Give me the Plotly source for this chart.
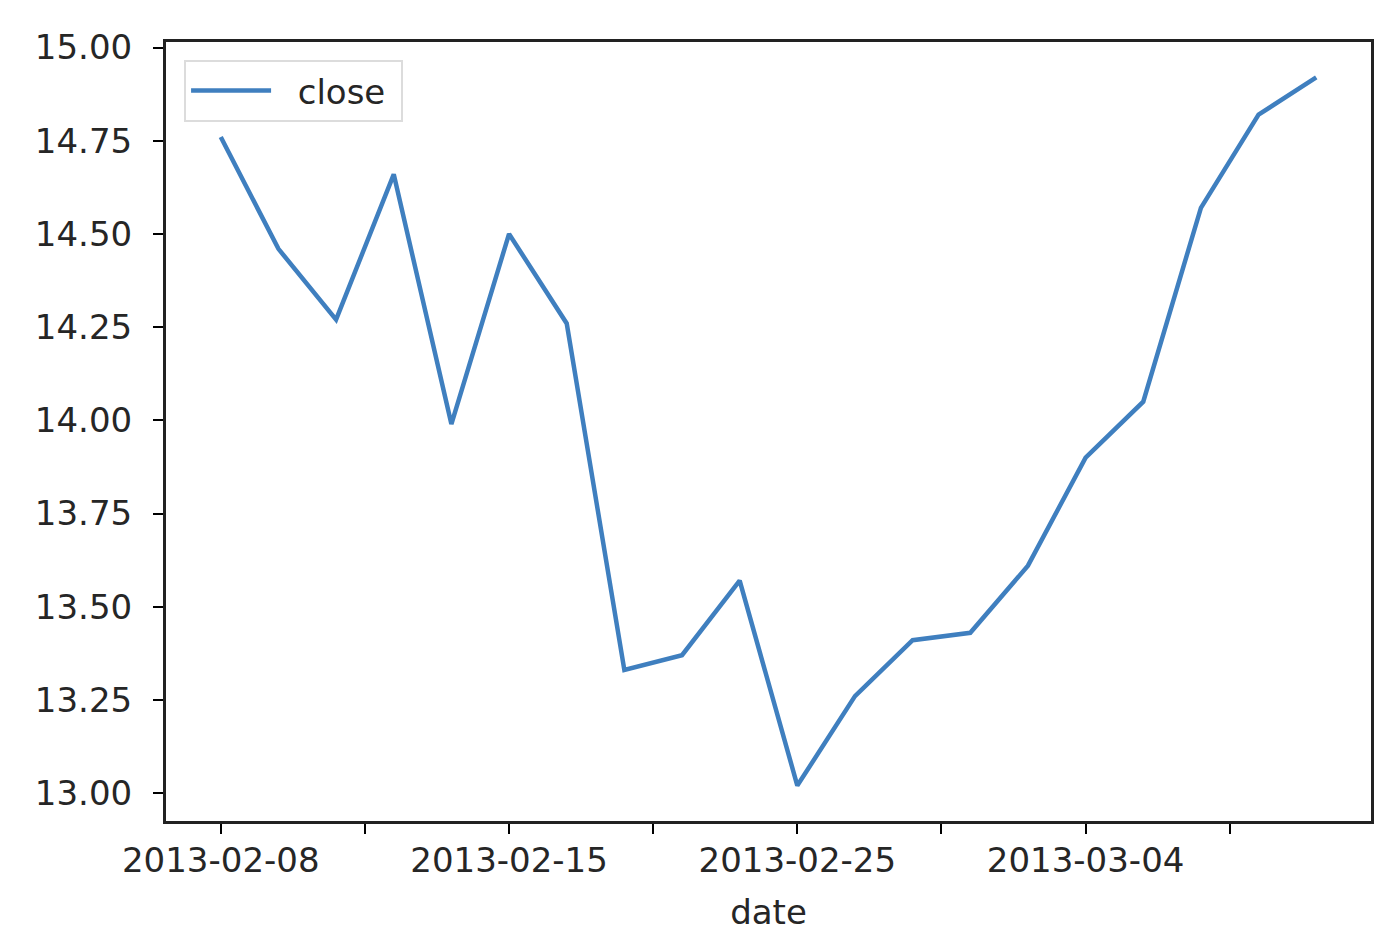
import plotly.graph_objects as go

# trading days shown on the chart (20 rows, index-spaced like pandas does)
dates = [
    "2013-02-08", "2013-02-11", "2013-02-12", "2013-02-13", "2013-02-14",
    "2013-02-15", "2013-02-18", "2013-02-19", "2013-02-20", "2013-02-21",
    "2013-02-25", "2013-02-26", "2013-02-27", "2013-02-28", "2013-03-01",
    "2013-03-04", "2013-03-05", "2013-03-06", "2013-03-07", "2013-03-08",
]
close = [
    14.76, 14.46, 14.27, 14.66, 13.99,
    14.50, 14.26, 13.33, 13.37, 13.57,
    13.02, 13.26, 13.41, 13.43, 13.61,
    13.90, 14.05, 14.57, 14.82, 14.92,
]
major_idx = [0, 5, 10, 15]
minor_idx = [2.5, 7.5, 12.5, 17.5]
y_ticks = [13.00, 13.25, 13.50, 13.75, 14.00, 14.25, 14.50, 14.75, 15.00]

idx = list(range(len(dates)))
font = "DejaVu Sans"
txt_color = "#262626"

fig = go.Figure()
fig.add_trace(go.Scatter(
    x=idx, y=close, mode="lines", name="\u00a0\u00a0close\u00a0",
    line=dict(color="#3f7fbf", width=4.5),
    customdata=dates, hovertemplate="%{customdata}<br>%{y:.2f}<extra></extra>",
))

# matplotlib-ish margins: 5% padding on both axes
pad_x = 0.05 * (len(idx) - 1)
pad_y = 0.05 * (max(close) - min(close))

fig.update_layout(
    width=1396, height=944,
    paper_bgcolor="white", plot_bgcolor="white",
    margin=dict(l=158, r=33, t=34, b=131),
    font=dict(family=font, size=34, color=txt_color),
    showlegend=True,
    legend=dict(
        x=0.015, y=0.977, xanchor="left", yanchor="top",
        bordercolor="#dcdcdc", borderwidth=2, bgcolor="rgba(255,255,255,0.8)",
        font=dict(size=34), itemwidth=80,
    ),
)
fig.update_xaxes(
    range=[-pad_x, len(idx) - 1 + pad_x],
    tickvals=major_idx, ticktext=[dates[i] for i in major_idx],
    ticks="outside", ticklen=10, tickwidth=2, tickcolor="black",
    ticklabelstandoff=-3,
    minor=dict(tickvals=minor_idx, ticks="outside", ticklen=10, tickwidth=2, tickcolor="black"),
    showline=True, linecolor="#222", linewidth=3, mirror=True,
    showgrid=False, zeroline=False,
    title=dict(text="date", font=dict(size=34), standoff=22),
)
fig.update_yaxes(
    range=[min(close) - pad_y, max(close) + pad_y],
    tickvals=y_ticks, ticktext=[f"{v:.2f}" for v in y_ticks],
    ticks="outside", ticklen=10, tickwidth=2, tickcolor="black",
    ticklabelstandoff=14,
    showline=True, linecolor="#222", linewidth=3, mirror=True,
    showgrid=False, zeroline=False,
)

fig.write_html("out.html")
